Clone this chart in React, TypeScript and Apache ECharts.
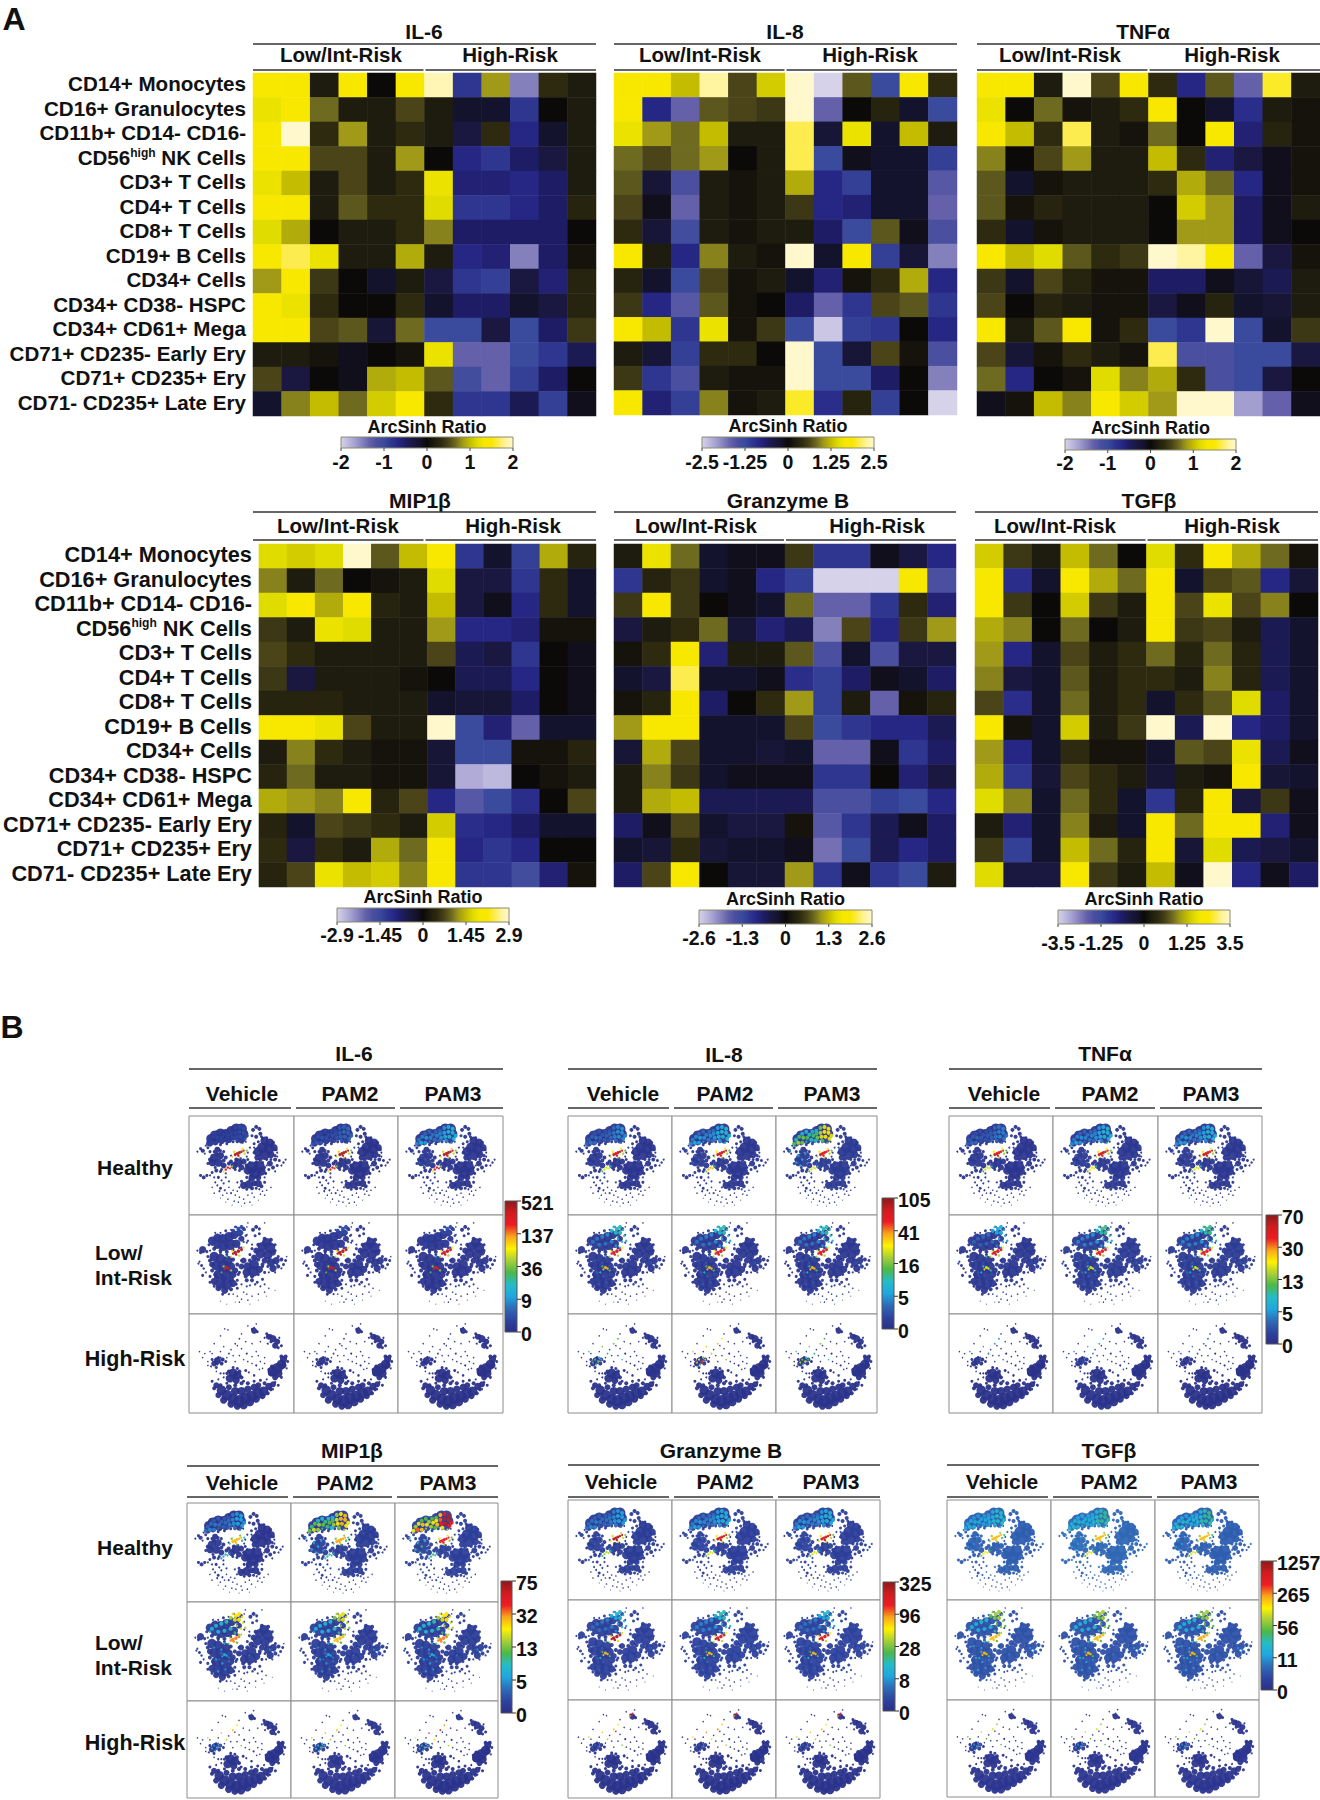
import React, { useEffect, useRef } from "react";
import * as echarts from "echarts";

const FONT = '"Liberation Sans", Arial, sans-serif';

const cellTypes = ["CD14+ Monocytes","CD16+ Granulocytes","CD11b+ CD14- CD16-","CD56high NK Cells","CD3+ T Cells","CD4+ T Cells","CD8+ T Cells","CD19+ B Cells","CD34+ Cells","CD34+ CD38- HSPC","CD34+ CD61+ Mega","CD71+ CD235- Early Ery","CD71+ CD235+ Ery","CD71- CD235+ Late Ery"];
const sampleIds = ["1","2","3","4","5","6","7","8","9","10","11","12"];

// Heat levels: 12 is the top of each panel's ArcSinh colour scale, -12 the bottom.
const il6Levels = [
[8,9,1,8,0,8,11.5,-5,5,-9,2,1],
[7.5,8,4,1,1,3,1,-1,-1,-5,0,1],
[8,12,2,5,1,2,1,-2,2,-4,-1,1],
[8,9,3,3,1,5,0,-4,-5,-3,-2,1],
[7.5,6,1,3,1,2,7.5,-3.5,-3.5,-4,-3,1],
[8,9,1,3.5,2,2,7,-5,-5,-4,-3,1.5],
[7,5.5,0,1,1,2,4.5,-3,-3,-3,-3,0],
[8,10,7.5,1,1,5.5,1,-4,-3.5,-9,-3,0.5],
[5,8,2.5,0,-1,1,-2,-5,-5.5,-2,-3.5,1.5],
[8,7.5,2,0,0,2,-1,-3,-3,-1,-2,1.5],
[8,8,3,3.5,-1.5,4,-6,-6,-2,-6,-3,2.5],
[1,1,0.5,-0.5,0,0.5,7.5,-8,-8,-6,-5,-2.5],
[3,-2,0,-0.5,5.5,6,3.5,-6.5,-8,-5.5,-3,0],
[-1,4.5,6,4,6.5,8,2,-5,-5,-2.5,-5.5,-0.5]];
const il8Levels = [
[8,8,6,11,3,6.5,12,-12,3.5,-6,8,2],
[8,-4,-8,3.5,3,2.5,12,-8,0,1.5,-1,-6],
[7.5,5,4,6,1,1,10,-1.5,7.5,-1,6,1],
[4,3,4,5,0,1,10,-6,-0.5,-1,-1,-5.5],
[3.5,-1.5,-7,1,0.5,1,5.5,-4,-5.5,-1,-1,-7.5],
[3,-0.5,-8,1,0.5,1,2.5,-4,-3.5,-1,-1,-8],
[2,-1.5,-6.5,1,0.5,1,1,-3,-6,3.5,-0.5,-7],
[8,1,-4,4.5,1,0.5,12,-1,8,-5.5,-1.5,-9],
[1.5,-1,-6,3,0.5,1,-1,-3.5,0.5,2,5.5,-4],
[2.5,-4,-7.5,3.5,0.5,0,-3,-8,-5,3,3.5,-5],
[8,6,-5,7.5,0.5,2.5,-6,-11.5,-5.5,-5,0,-4],
[1,-1.5,-5.5,2,2,0,12,-6,-1.5,3,0.5,-7],
[2.5,-5,-7,1,0.5,0.5,12,-6,-6,-3,0,-9],
[8,-3.5,-5.5,4.5,0.5,1,9.5,-4.5,1.5,-5.5,0,-12]];
const tnfLevels = [
[9,8,1,12,3,8,2,-4,3.5,-8,9.5,1],
[7.5,0,4,0.5,1,2,8,0,-1,-4.5,1,0.5],
[8,6,2,10,1,0.5,4,0,8,-3.5,1.5,0.5],
[4.5,0,3,5,1,1,6,2,-3.5,-2,-0.5,0.5],
[3.5,-1,0.5,1,1,1,2,5.5,4,-4,-0.5,0.5],
[3.5,0.5,1.5,1,1,1,0,6.5,5,-3,-0.5,1],
[2,-1,0.5,1,1,1,0,5,5,-3,-0.5,0],
[8,6,7,3.5,2,2.5,12,11,8,-8,-2,0.5],
[2.5,-1,3,1.5,0.5,0.5,-3,-3,-0.5,-1.5,-2.5,1],
[3,0,1.5,1,0.5,0.5,-2,-0.5,1.5,-1,-1.5,1],
[8,1,3.5,8,0.5,2,-6,-5,12,-6,-1,2.5],
[3,-1.5,0.5,2,1,0.5,10,-7,-7,-6,-6,-2],
[4,-4,0,0.5,7,4.5,5.5,2,-7,-6,-2,0],
[-0.5,0.5,6,4.5,8,6.5,5,12,12,-10,-8,-0.5]];
const mipLevels = [
[7,6.5,7,12,3.5,6,8,-5,-1,-5.5,5.5,1.5],
[4.5,1,4,0,0.5,1,7,-2,-2,-5,2,-1],
[7,8,5.5,8,1.5,1,6,-2,-0.5,-4,2,-1],
[2.5,1,7.5,7,1,1,5,-4,-4,-3.5,0.5,0.5],
[3,2,1,1,1,1,3,-2.5,-2,-5,0,-0.5],
[2.5,-2,1,1,1,0.5,0,-2.5,-2.5,-4,0,-0.5],
[1.5,1.5,1.5,1,1,1,-1,-1.5,-1.5,-3,0,-0.5],
[8,8,7.5,3,1,1,12,-6,-3.5,-8,-1,-1],
[1,4.5,2,1,0.5,0.5,-1.5,-6,-6,0.5,0.5,1.5],
[1.5,4,1,1,0.5,0.5,-1.5,-10.5,-11,0,0.5,1],
[5.5,5,4.5,8,1.5,3,-4,-7.5,-6,-4.5,0,3],
[1.5,-1,3,2.5,2,1,6.5,-4.5,-4,-3,-1,-1],
[2,-2,2,1,5.5,4,8,-4,-5,-4,0,0],
[1.5,3,7.5,6,6.5,4.5,8,-5,-5,-6.5,-3.5,0.5]];
const gzbLevels = [
[1,7.5,4,-1,-0.5,-0.5,2.5,-5,-5,-0.5,-2,-4],
[-5,1.5,2.5,-1,-0.5,-4,-5.5,-12,-12,-12,8,-7],
[2.5,8,2.5,0,-0.5,-1,4,-8,-8,-5,2,-3.5],
[-2,1,2,4,-1.5,-3.5,-2.5,-9,3,-4,2.5,5],
[0.5,2,8,-3.5,1,1,3.5,-7,-1,-7,-2,-2],
[-1,-2,10,-1,-1,-0.5,-4.5,-5.5,-3,-0.5,-1,-3],
[0.5,1.5,8,-3,0,2,5,-5.5,1,-8,0.5,1.5],
[5,8,8,-1,-1,-1,3,-6,-5,-4,-4,-2.5],
[-1.5,5.5,3,-1,-1,-1.5,-1,-8,-8,-0.5,-5,-3],
[1,4.5,2.5,-1,-0.5,-0.5,-0.5,-5,-5,0,-3.5,-2],
[1,5.5,6,-2.5,-2.5,-2.5,-2.5,-7,-7,-5.5,-6,-4],
[-3,-0.5,3,-1,-2,-2,0.5,-7.5,-5,-2.5,-0.5,-3],
[-1,-1.5,2,-1.5,-1,-1,-0.5,-8.5,-6,-2.5,-4,-3],
[-3,3,8,0,-1.5,-1.5,5,-5,-0.5,-5,-6,1]];
const tgfLevels = [
[6.5,2.5,1,6,4,0,7,2,8,5.5,4,0.5],
[8,-4.5,-1,8,5.5,4,8,-1,3,3.5,-4,-1.5],
[8,2.5,0,6.5,2.5,1,8,3,7.5,3,4.5,0],
[5.5,4.5,0,4,0,1,8,2.5,3,1,-2.5,-1],
[5,-4,-1,3,1,2,4,1.5,4,1.5,-2.5,-1],
[4.5,-2,-1,3.5,1,2,2,1,4.5,1.5,-2.5,-1],
[3,-4.5,-1,4,1,2,-1,2,3.5,7,-3,-1],
[8,0.5,-1,6.5,1,2.5,12,-2.5,12,-4,-3,-1],
[5,-4,-1,2,0.5,0.5,-1,3.5,3,7.5,-2.5,-0.5],
[5.5,-5,-1.5,3,2,1,-1.5,1,0.5,8,-1.5,-1],
[7,4.5,-1,4,2,-1,-5,1.5,9,-2,2.5,-0.5],
[1,-3.5,-1,4.5,1,-1,8,4,8,8,-3.5,-0.5],
[2.5,-5.5,-1,6,4,1.5,9,-1.5,7,-2.5,-2,-1],
[7,-2,-2,8,2.5,1,6,-0.5,12,-4,-0.5,-3]];

const heatPalette = ["#d6d2ea","#bdb9de","#a29ed0","#8480bc","#6460aa","#4a4fa0","#3a4a9c","#2e3690","#262684","#1e1c64","#1a1840","#14132e","#0b0a08","#1e1c0e","#2e2a10","#4a4418","#6e6a20","#a09a18","#c4bc00","#e0dc00","#f8e800","#f8e800","#fdec50","#fff4a0","#fff8cc"];
const jetPalette = ["#2b2f86","#2d44a0","#2f6cb8","#1fa7e0","#25bcc8","#4cb848","#a8cf38","#fff200","#f9a61a","#ed1c24","#d01c1f","#8b1a1a"];

const il6Ticks = ["-2","-1","0","1","2"];
const il8Ticks = ["-2.5","-1.25","0","1.25","2.5"];
const tnfTicks = ["-2","-1","0","1","2"];
const mipTicks = ["-2.9","-1.45","0","1.45","2.9"];
const gzbTicks = ["-2.6","-1.3","0","1.3","2.6"];
const tgfTicks = ["-3.5","-1.25","0","1.25","3.5"];

// tSNE clusters: x%, y%, dot diameter, region, share of the region's colour
// Regions: 0 background, 1 upper arc / left blob, 2 centre streak / sparse dots, 3 lower streak / top cluster
const healthyMap = [
[21,23,8,0],[25,20,9,0],[30,18,9,0],[35,18,8,0],[40,15,8,0],[45,13,9,0],[50,13,9,0],[52,18,8,0],[47,19,8,0],[42,20,8,0],[37,23,7,0],[31,24,7,0],[25,26,6,0],[20,28,5,0],[50,24,6,0],
[18,26,3,0],[16,30,2,0],[30,29,3,0],[36,28,3,0],[42,26,3,0],[46,26,3,0],[54,26,2,0],
[61,14,4,0],[64,11,4,0],[67,13,4,0],[68,18,4,0],[64,21,4,0],[60,20,3,0],[70,23,3,0],
[72,25,7,0],[77,27,7,0],[70,32,9,0],[76,33,9,0],[81,32,6,0],[66,36,8,0],[72,39,9,0],[78,39,6,0],[65,42,5,0],[82,40,3,0],
[62,28,3,0],[66,26,3,0],[69,21,3,0],[74,22,3,0],[80,27,4,0],[83,34,3,0],[84,37,2,0],[62,37,3,0],[68,44,4,0],[74,44,3,0],[62,32,2,0],[58,32,2,0],[56,37,2,0],
[27,34,5,0],[30,40,6,0],[24,42,7,0],[22,47,6,0],[28,47,7,0],[33,50,5,0],[18,32,3,0],[13,35,4,0],[11,33,3,0],[33,36,3,0],[8,36,2,0],
[20,36,3,0],[24,36,3,0],[30,35,3,0],[35,42,4,0],[33,45,4,0],[26,38,4,0],[20,44,4,0],[18,48,3,0],[25,52,3,0],[31,54,3,0],[15,38,2,0],
[47,47,7,0],[43,50,6,0],[52,46,5,0],[40,46,4,0],[50,52,5,0],[55,50,4,0],
[38,48,4,0],[45,44,4,0],[49,43,3,0],[56,44,3,0],[44,54,3,0],[48,55,3,0],[40,40,2,0],[35,58,2,0],[55,41,2,0],
[60,52,10,0],[67,51,9,0],[56,55,7,0],[63,57,10,0],[69,56,7,0],[60,62,6,0],[66,62,5,0],
[55,50,3,0],[72,52,3,0],[73,58,3,0],[58,47,3,0],[64,47,4,0],[70,47,3,0],[55,62,3,0],[72,62,2,0],
[77,48,5,0],[82,44,4,0],[86,45,3,0],[90,47,2.5,0],[80,52,4,0],[76,54,3,0],[88,50,2,0],
[78,44,3,0],[84,50,3,0],[74,50,2,0],[92,44,2,0],[84,41,2,0],[82,56,2,0],
[14,62,4,0],[11,60,3,0],[17,60,3,0],[22,57,3,0],[26,55,4,0],[30,56,3,0],
[57,69,7,0],[52,70,6,0],[62,68,5,0],[66,68,6,0],[69,71,4,0],[60,73,4,0],[55,74,3,0],
[50,66,3,0],[48,72,2,0],[64,73,3,0],[72,67,3,0],[67,74,2,0],[58,64,3,0],[46,67,2,0],
[27,70,2,0],[30,73,3,0],[25,67,2,0],[34,75,2,0],[38,72,1.5,0],[40,78,2,0],[44,80,1.5,0],[32,80,1.5,0],[48,82,1.5,0],[52,84,1.5,0],[56,80,1.5,0],[62,82,1.5,0],[68,79,1.5,0],[72,80,1.5,0],[37,84,1.5,0],[43,86,1.5,0],[47,87,1.5,0],[53,88,1.5,0],[58,87,1.5,0],[74,75,1.5,0],[78,72,1.5,0],[31,65,2,0],[35,62,2,0],[38,66,2,0],
[20,60,2,0],[24,62,2,0],[28,62,3,0],[33,68,2,0],[29,76,2,0],[36,78,1.5,0],[42,75,1.5,0],[46,76,1.5,0],[30,83,1,0],[35,87,1,0],[41,90,1,0],[50,91,1,0],[60,90,1,0],[66,85,1,0],[70,76,1.5,0],[60,78,1.5,0],[22,72,1.5,0],[24,78,1.5,0],
[40,15,3,1,.5],[44,12,3,1,.8],[48,11,3,1,1],[52,13,3,1,1.1],[36,16,3,1,.5],[40,18,3,1,.7],[44,17,3,1,.9],[48,16,3,1,1.1],[52,17,3,1,1.1],[55,20,3,1,1],
[26,18,3,1,.5],[30,16,3,1,.5],[33,19,3,1,.6],[37,20,3,1,.7],[41,22,3,1,.8],[45,21,3,1,1],[49,21,3,1,1.1],[53,23,3,1,1],
[20,24,3,1,.6],[23,21,3,1,.7],[27,22,3,1,.8],[31,22,3,1,.7],[35,24,3,1,.6],[39,25,3,1,.5],[46,25,3,1,.7],[51,27,2,1,.8],[18,28,3,1,.7],[22,27,3,1,.9],[26,27,3,1,.8],[30,26,2,1,.6],
[22,40,2.5,1,.4],[26,44,2.5,1,.45],[29,38,2.5,1,.35],[20,47,2.5,1,.4],[31,48,2,1,.35],[24,50,2,1,.4],[14,35,2,1,.4],
[43,36,2.5,2,.7],[51,33,2,2,.7],[53,38,2.5,2,.6],[41,41,2,2,.6],[48,42,2,2,.6],[55,35,2,2,.5],[33,56,2,3,.7],[41,51,2,3,.6],
[44,39,3,2],[46,38,3,2],[48,37,3,2],[50,36,2.5,2],[47,40,2.5,2],[52,35,2,2],[35,54,2.5,3],[37,52,2.5,3],[39,53,2,3]];
const lowIntMap = [
[22,26,7,0],[27,23,7,0],[32,24,8,0],[38,22,8,0],[43,20,7,0],[48,18,6,0],[52,14,4,0],[27,30,7,0],[33,31,9,0],[39,30,9,0],[45,29,7,0],[50,24,5,0],[35,16,3,0],[45,12,2,0],
[19,30,3,0],[24,34,4,0],[30,36,4,0],[36,37,4,0],[42,35,3,0],[48,33,3,0],[55,28,2,0],[55,20,2,0],[30,18,2,0],[40,15,2,0],[25,18,2,0],[55,12,1.5,0],[56,8,1.5,0],
[61,15,4,0],[64,12,4,0],[67,14,3,0],[67,19,3,0],[63,21,3,0],[72,8,1.5,0],
[74,28,8,0],[70,32,8,0],[77,33,9,0],[68,39,8,0],[75,40,8,0],[80,38,5,0],[64,36,5,0],[62,43,5,0],[72,46,5,0],
[66,30,4,0],[72,24,4,0],[78,25,4,0],[82,30,3,0],[82,36,3,0],[60,34,3,0],[58,40,3,0],[66,45,4,0],[76,46,3,0],[70,52,3,0],[60,30,2,0],
[13,35,6,0],[11,38,3,0],[17,37,3,0],
[24,42,8,0],[30,44,8,0],[37,46,8,0],[26,51,8,0],[33,52,10,0],[40,52,7,0],[22,50,5,0],[28,60,8,0],[35,60,9,0],[42,60,6,0],
[18,42,3,0],[20,36,2,0],[8,36,2,0],[20,46,4,0],[30,38,3,0],[36,40,3,0],[42,45,4,0],[46,50,4,0],[44,56,5,0],[22,56,4,0],[25,60,4,0],[31,56,5,0],[38,56,5,0],[47,60,3,0],[20,62,3,0],[20,68,3,0],[26,63,4,0],[33,64,5,0],[40,65,5,0],[46,66,3,0],[24,72,3,0],[32,80,3,0],[38,80,2,0],[45,70,3,0],
[24,67,6,0],[30,69,9,0],[36,70,9,0],[42,69,6,0],[28,74,5,0],[34,76,6,0],[40,75,4,0],[46,74,3,0],
[56,52,7,0],[62,50,8,0],[55,58,7,0],[61,57,9,0],[67,55,6,0],[52,46,5,0],[50,52,5,0],
[50,46,3,0],[58,46,4,0],[64,44,3,0],[70,50,4,0],[54,62,4,0],[60,62,4,0],[66,60,3,0],[48,58,3,0],[72,58,3,0],
[78,48,7,0],[83,46,6,0],[88,45,4,0],[92,46,3,0],[80,54,6,0],[85,52,4,0],
[75,52,3,0],[76,44,3,0],[85,42,3,0],[90,50,3,0],[88,54,2,0],[76,58,2,0],[82,58,2,0],[93,42,1.5,0],
[12,51,3,0],[14,54,2.5,0],[13,61,3,0],[10,47,2,0],[9,49,2,0],[16,58,2,0],
[55,66,4,0],[60,66,4,0],[65,68,3,0],[70,65,3,0],[63,70,2.5,0],[50,70,2,0],[55,72,2,0],[58,71,2,0],[68,72,2,0],[72,70,2,0],
[46,82,1.5,0],[50,85,1.5,0],[55,80,1.5,0],[60,82,1.5,0],[66,80,1.5,0],[52,78,1.5,0],[42,80,1.5,0],[72,78,1.5,0],[76,74,1.5,0],[48,88,1.5,0],[56,86,1.5,0],[30,87,1,0],[36,90,1,0],[44,88,1,0],[58,90,1,0],[66,86,1,0],[74,82,1,0],[82,76,1,0],
[44,12,2.5,1,1],[47,14,3,1,1.1],[50,12,3,1,1.1],[53,15,2.5,1,1],[42,16,3,1,.9],[46,18,3,1,1],[50,18,3,1,1.1],[54,21,2.5,1,1],[56,26,2.5,1,.9],[52,27,2.5,1,1],[48,24,2.5,1,.9],[38,20,3,1,.6],[33,22,3,1,.55],[28,24,3,1,.5],[24,27,3,1,.5],[30,30,3,1,.5],[36,29,3,1,.5],[42,27,3,1,.6],[46,31,2.5,1,.7],[50,33,2,1,.8],[22,30,2.5,1,.4],
[26,46,2.5,1,.3],[33,48,2.5,1,.35],[28,58,2.5,1,.35],[34,62,2.5,1,.35],[40,60,2,1,.3],[30,70,2.5,1,.35],[37,68,2.5,1,.3],[60,54,2,1,.25],[80,48,2.5,1,.3],[84,50,2,1,.3],
[41,36,2,2,.7],[52,33,2,2,.7],[40,42,2,2,.6],[48,41,2.5,2,.6],[36,42,2,2,.4],[33,52,2,3,.6],[40,56,2,3,.6],[31,58,2,3,.5],
[44,38,3.5,2],[47,36.5,3.5,2],[50,35,3,2],[42,39,2.5,2],[45,40,2.5,2],[36,53,3,3],[38,54,2.5,3],[34,55,2,3]];
const highRiskMap = [
[62,17,5,0],[65,18,3,0],[60,15,2,0],
[76,23,5,0],[80,25,6,0],[84,28,5,0],[82,32,5,0],[85,34,3,0],[78,28,3,0],
[74,20,3,0],[72,24,2,0],[78,22,3,0],[88,32,3,0],[86,24,2,0],[75,30,2,0],
[90,46,6,0],[88,51,8,0],[84,55,9,0],[80,58,9,0],[85,60,7,0],[79,53,4,0],[90,52,5,0],
[92,43,4,0],[94,48,3,0],[88,43,4,0],[78,60,5,0],[82,64,5,0],[88,64,3,0],[76,56,3,0],[93,55,2,0],
[27,47,6,0],[32,46,4,0],[24,50,5,0],[31,50,4,0],[28,44,3,0],[22,46,3,0],[35,48,3,0],[26,54,3,0],[21,53,2,0],[18,48,1.5,0],
[42,60,8,0],[46,62,7,0],[39,65,7,0],[45,67,6,0],[48,58,4,0],[38,58,4,0],[36,60,3,0],[50,64,4,0],[52,68,3,0],[42,54,3,0],[46,55,3,0],[30,60,2,0],
[54,57,3,0],[57,59,2,0],[62,62,2.5,0],
[26,72,5,0],[31,77,8,0],[36,82,9,0],[42,86,9,0],[48,88,10,0],[54,85,10,0],[60,83,9,0],[66,80,9,0],[71,78,8,0],[76,73,6,0],[80,71,5,0],[44,78,7,0],[50,78,7,0],[56,76,6,0],[62,74,6,0],[38,74,5,0],[30,72,4,0],[66,72,5,0],[72,70,4,0],
[22,68,3,0],[24,75,4,0],[28,82,5,0],[33,87,6,0],[40,91,6,0],[46,93,6,0],[52,92,7,0],[58,89,7,0],[64,86,6,0],[70,83,5,0],[75,80,4,0],[78,76,4,0],[50,70,4,0],[56,70,4,0],[62,68,3,0],[44,72,4,0],[36,70,3,0],[33,64,2,0],[28,66,2,0],[68,67,3,0],[74,66,2,0],[80,76,2,0],
[85,72,3,0],[82,69,2.5,0],
[34,15,1.5,0],[37,16,1.5,0],[46,32,1.5,0],[50,35,1.5,0],[55,40,2,0],[60,43,1.5,0],[64,38,1.5,0],[15,40,1.5,0],[13,44,1.5,0],[18,52,1.5,0],[56,48,1.5,0],[64,52,2,0],[68,48,1.5,0],[72,44,1.5,0],[70,55,1.5,0],[44,48,1.5,0],[40,36,1.5,0],[26,58,1.5,0],[33,60,2,0],
[56,12,1.5,0],[64,10,1.5,0],[50,20,1.5,0],[30,22,1.5,0],[24,30,1.5,0],[54,28,1.5,0],[60,30,1.5,0],[68,28,1.5,0],[42,42,1.5,0],[36,44,1.5,0],[48,42,1.5,0],[60,50,1.5,0],[67,56,1.5,0],[10,38,1.5,0],[22,40,1.5,0],[66,42,1.5,0],[72,50,1.5,0],[30,38,1.5,0],
[26,46,2,1,.8],[29,48,2.5,1,1],[24,49,2,1,.9],[32,46,2,1,.7],[27,51,2,1,.6],[30,44,2,1,.6],
[44,30,1.8,2,1],[48,25,1.8,2,.9],[38,40,1.8,2,.8],[33,33,1.5,2,1],[20,38,1.5,2,.8],[52,46,1.5,2,.7],
[62,14,2,3,1],[60,16,1.8,3,.9]];

// Panel intensity on the 0..1 jet scale: [background, region 1, region 2, region 3], row by row, Vehicle/PAM2/PAM3
const il6Hot = [[.02,.1,.95,.85],[.02,.16,.95,.85],[.03,.3,.95,.85],[.03,.1,.95,.9],[.03,.1,.95,.9],[.03,.1,.9,.85],[.01,.05,.08,.02],[.01,.05,.1,.02],[.01,.05,.08,.02]];
const il8Hot = [[.03,.22,.9,.6],[.04,.32,.9,.7],[.05,.6,.9,.6],[.04,.35,.88,.7],[.04,.35,.88,.7],[.04,.35,.88,.7],[.02,.5,.5,.03],[.02,.8,.7,.03],[.02,.6,.5,.03]];
const tnfHot = [[.03,.2,.9,.6],[.04,.3,.9,.65],[.04,.3,.9,.6],[.04,.28,.9,.6],[.05,.38,.85,.6],[.05,.38,.85,.6],[.01,.1,.25,.02],[.02,.12,.3,.03],[.01,.1,.2,.02]];
const mipHot = [[.03,.25,.7,.3],[.06,.65,.72,.4],[.07,.85,.85,.4],[.05,.6,.75,.3],[.06,.55,.7,.3],[.06,.6,.75,.3],[.02,.3,.7,.05],[.03,.4,.7,.05],[.02,.4,.8,.05]];
const gzbHot = [[.06,.25,.95,.55],[.07,.3,.9,.6],[.07,.3,.9,.6],[.07,.3,.95,.7],[.08,.35,.9,.7],[.08,.3,.9,.7],[.02,.15,.7,.85],[.02,.15,.75,.85],[.02,.15,.7,.85]];
const tgfHot = [[.15,.34,.7,.65],[.17,.38,.7,.6],[.15,.38,.7,.6],[.12,.5,.7,.7],[.12,.5,.7,.7],[.12,.5,.72,.7],[.03,.25,.6,.05],[.03,.25,.6,.05],[.03,.25,.6,.05]];

const il6Bar = ["521","137","36","9","0"];
const il8Bar = ["105","41","16","5","0"];
const tnfBar = ["70","30","13","5","0"];
const mipBar = ["75","32","13","5","0"];
const gzbBar = ["325","96","28","8","0"];
const tgfBar = ["1257","265","56","11","0"];

const heatPanels = [
 {title:"IL-6",levels:il6Levels,ticks:il6Ticks,g:[253,73,343,343],tt:[424,31],tl:44,gl:54.5,gu:70,lowX:341,highX:510,bar:[341,437,172,11],bt:427,bl:462,labels:true,fs:20.6},
 {title:"IL-8",levels:il8Levels,ticks:il8Ticks,g:[614,73,343,342],tt:[785,31],tl:44,gl:54.5,gu:70,lowX:700,highX:870,bar:[702,437,172,11],bt:426,bl:462,labels:false,fs:20},
 {title:"TNFα",levels:tnfLevels,ticks:tnfTicks,g:[977,73,343,343],tt:[1143,31],tl:44,gl:54.5,gu:70,lowX:1060,highX:1232,bar:[1065,439,171,11],bt:428,bl:463,labels:false,fs:20},
 {title:"MIP1β",levels:mipLevels,ticks:mipTicks,g:[253,544,343,343],tt:[420,500],tl:512,gl:525,gu:540,lowX:338,highX:513,bar:[337,908,172,14],bt:897,bl:935,labels:true,fs:21.7},
 {title:"Granzyme B",levels:gzbLevels,ticks:gzbTicks,g:[614,544,342,343],tt:[788,500],tl:512,gl:525,gu:540,lowX:696,highX:877,bar:[699,910,173,14],bt:899,bl:938,labels:false,fs:20},
 {title:"TGFβ",levels:tgfLevels,ticks:tgfTicks,g:[975,544,343,343],tt:[1149,500],tl:512,gl:525,gu:540,lowX:1055,highX:1232,bar:[1058,910,172,14],bt:899,bl:943,labels:false,fs:20},
];
const mapPanels = [
 {title:"IL-6",hot:il6Hot,bar:il6Bar,x:[189,294,398,503],y:[1116,1215,1314,1413],tt:[354,1053],tl:1069,cl:1093,cu:1108,cb:[505,1201,12,131],cx:[242,350,453]},
 {title:"IL-8",hot:il8Hot,bar:il8Bar,x:[568,672,776,877],y:[1116,1215,1314,1413],tt:[724,1054],tl:1069,cl:1093,cu:1108,cb:[882,1198,12,131],cx:[623,725,832]},
 {title:"TNFα",hot:tnfHot,bar:tnfBar,x:[949,1053,1158,1262],y:[1116,1215,1314,1413],tt:[1105,1053],tl:1069,cl:1093,cu:1108,cb:[1266,1215,12,129],cx:[1004,1110,1211]},
 {title:"MIP1β",hot:mipHot,bar:mipBar,x:[187,291,395,498],y:[1503,1602,1701,1798],tt:[352,1450],tl:1466,cl:1482,cu:1497,cb:[501,1581,11,132],cx:[242,345,448]},
 {title:"Granzyme B",hot:gzbHot,bar:gzbBar,x:[568,672,776,880],y:[1500,1600,1700,1798],tt:[721,1450],tl:1465,cl:1481,cu:1497,cb:[883,1582,12,129],cx:[621,725,831]},
 {title:"TGFβ",hot:tgfHot,bar:tgfBar,x:[947,1051,1155,1259],y:[1500,1600,1700,1797],tt:[1109,1450],tl:1465,cl:1481,cu:1497,cb:[1261,1561,12,129],cx:[1002,1109,1209]},
];
const treatments = ["Vehicle","PAM2","PAM3"];
const maps = [healthyMap, lowIntMap, highRiskMap];

function txt(text:string,x:number,y:number,size:number,align="center",fill="#111"){
  return {type:"text",silent:true,style:{text,x,y,fill,font:`bold ${size}px ${FONT}`,align,verticalAlign:"middle"}};
}
function ln(x1:number,y1:number,x2:number,y2:number,color="#333",w=1.5){
  return {type:"line",silent:true,shape:{x1,y1,x2,y2},style:{stroke:color,lineWidth:w}};
}
function stops(p:string[]){ return p.map((color,i)=>({offset:i/(p.length-1),color})); }

function buildOption(){
  const grid:any[]=[],xAxis:any[]=[],yAxis:any[]=[],series:any[]=[],g:any[]=[];
  const heatIdx:number[]=[],mapIdx:number[]=[];
  g.push(txt("A",14,19,32),txt("B",12,1027,32));

  heatPanels.forEach(p=>{
    const i=grid.length;
    const [l,t,w,h]=p.g;
    grid.push({left:l,top:t,width:w,height:h,show:false,containLabel:false});
    xAxis.push({type:"category",gridIndex:i,data:sampleIds,show:false});
    yAxis.push({type:"category",gridIndex:i,data:cellTypes,inverse:true,axisLine:{show:false},axisTick:{show:false},
      axisLabel:{show:p.labels,interval:0,margin:7,color:"#111",fontFamily:FONT,fontWeight:"bold",fontSize:p.fs,padding:[0,0,3,0],
        formatter:(v:string)=>v==="CD56high NK Cells"?"{b|CD56}{s|high}{b| NK Cells}":v,
        rich:{b:{fontFamily:FONT,fontWeight:"bold",fontSize:p.fs,color:"#111"},s:{fontFamily:FONT,fontWeight:"bold",fontSize:12,color:"#111",verticalAlign:"top",padding:[0,0,6,0]}}},
      splitLine:{show:false}});
    const data:number[][]=[];
    p.levels.forEach((row,r)=>row.forEach((v,c)=>data.push([c,r,v])));
    heatIdx.push(series.length);
    series.push({type:"heatmap",xAxisIndex:i,yAxisIndex:i,data,silent:true,progressive:0,itemStyle:{borderWidth:0}});

    g.push(txt(p.title,p.tt[0],p.tt[1],21));
    g.push(ln(l,p.tl,l+w,p.tl));
    g.push(txt("Low/Int-Risk",p.lowX,p.gl,20.5),txt("High-Risk",p.highX,p.gl,20.5));
    g.push(ln(l,p.gu,l+w/2-1,p.gu),ln(l+w/2+1,p.gu,l+w,p.gu));
    const [bx,by,bw,bh]=p.bar;
    g.push({type:"rect",silent:true,shape:{x:bx,y:by,width:bw,height:bh},style:{stroke:"#8a8a70",lineWidth:1,
      fill:new echarts.graphic.LinearGradient(0,0,1,0,stops(heatPalette))}});
    g.push(txt("ArcSinh Ratio",bx+bw/2,p.bt,18));
    p.ticks.forEach((t,k)=>{
      const tx=bx+bw*k/4;
      g.push(ln(tx,by+bh,tx,by+bh+3,"#444",1));
      g.push(txt(t,tx,p.bl,19.5));
    });
  });

  mapPanels.forEach(p=>{
    for(let r=0;r<3;r++)for(let c=0;c<3;c++){
      const i=grid.length;
      grid.push({left:p.x[c],top:p.y[r],width:p.x[c+1]-p.x[c],height:p.y[r+1]-p.y[r],show:true,borderColor:"#8c8c8c",borderWidth:1,backgroundColor:"#fff"});
      xAxis.push({type:"value",gridIndex:i,min:0,max:100,show:false});
      yAxis.push({type:"value",gridIndex:i,min:0,max:100,inverse:true,show:false});
      const hot=p.hot[r*3+c];
      const data=maps[r].map((d:number[])=>{
        const base=hot[0],share=d[4]===undefined?1:d[4];
        const v=d[3]===0?base:Math.min(1,base+(hot[d[3]]-base)*share);
        const s=d[2]>=5?d[2]*1.2:(d[3]===1&&d[2]>=3&&r<2?d[2]*1.35:d[2]);
        return [d[0],d[1],v,s];
      });
      mapIdx.push(series.length);
      series.push({type:"scatter",xAxisIndex:i,yAxisIndex:i,data,silent:true,symbolSize:(v:number[])=>v[3],itemStyle:{opacity:0.95}});
    }
    g.push(txt(p.title,p.tt[0],p.tt[1],21));
    g.push(ln(p.x[0],p.tl,p.x[3],p.tl));
    treatments.forEach((t,k)=>{
      g.push(txt(t,p.cx[k],p.cl,21));
      g.push(ln(p.x[k]+(k?2:0),p.cu,p.x[k+1]-(k<2?3:0),p.cu));
    });
    const [bx,by,bw,bh]=p.cb;
    g.push({type:"rect",silent:true,shape:{x:bx,y:by,width:bw,height:bh},style:{stroke:"#555",lineWidth:1,
      fill:new echarts.graphic.LinearGradient(0,1,0,0,stops(jetPalette))}});
    p.bar.forEach((t,k)=>{
      const ty=by+bh*k/4;
      g.push(ln(bx+bw,ty,bx+bw+4,ty,"#333",1));
      g.push(txt(t,bx+bw+4,ty+2,19.5,"left"));
    });
  });

  [[1167,1252,1277,1359],[1547,1642,1667,1743]].forEach(y=>{
    g.push(txt("Healthy",135,y[0],21),txt("Low/",95,y[1],21,"left"),txt("Int-Risk",95,y[2],21,"left"),txt("High-Risk",135,y[3],21.5));
  });

  return {
    animation:false,backgroundColor:"#fff",grid,xAxis,yAxis,series,
    visualMap:[
      {type:"continuous",show:false,min:-12,max:12,dimension:2,seriesIndex:heatIdx,inRange:{color:heatPalette}},
      {type:"continuous",show:false,min:0,max:1,dimension:2,seriesIndex:mapIdx,inRange:{color:jetPalette}},
    ],
    graphic:{elements:g},
  };
}

export default function App(){
  const ref=useRef<HTMLDivElement>(null);
  useEffect(()=>{
    const chart=echarts.init(ref.current!,undefined,{renderer:"svg"});
    chart.setOption(buildOption() as any);
    return ()=>chart.dispose();
  },[]);
  return <div ref={ref} style={{position:"absolute",left:0,top:0,width:1320,height:1800,background:"#fff"}}/>;
}
